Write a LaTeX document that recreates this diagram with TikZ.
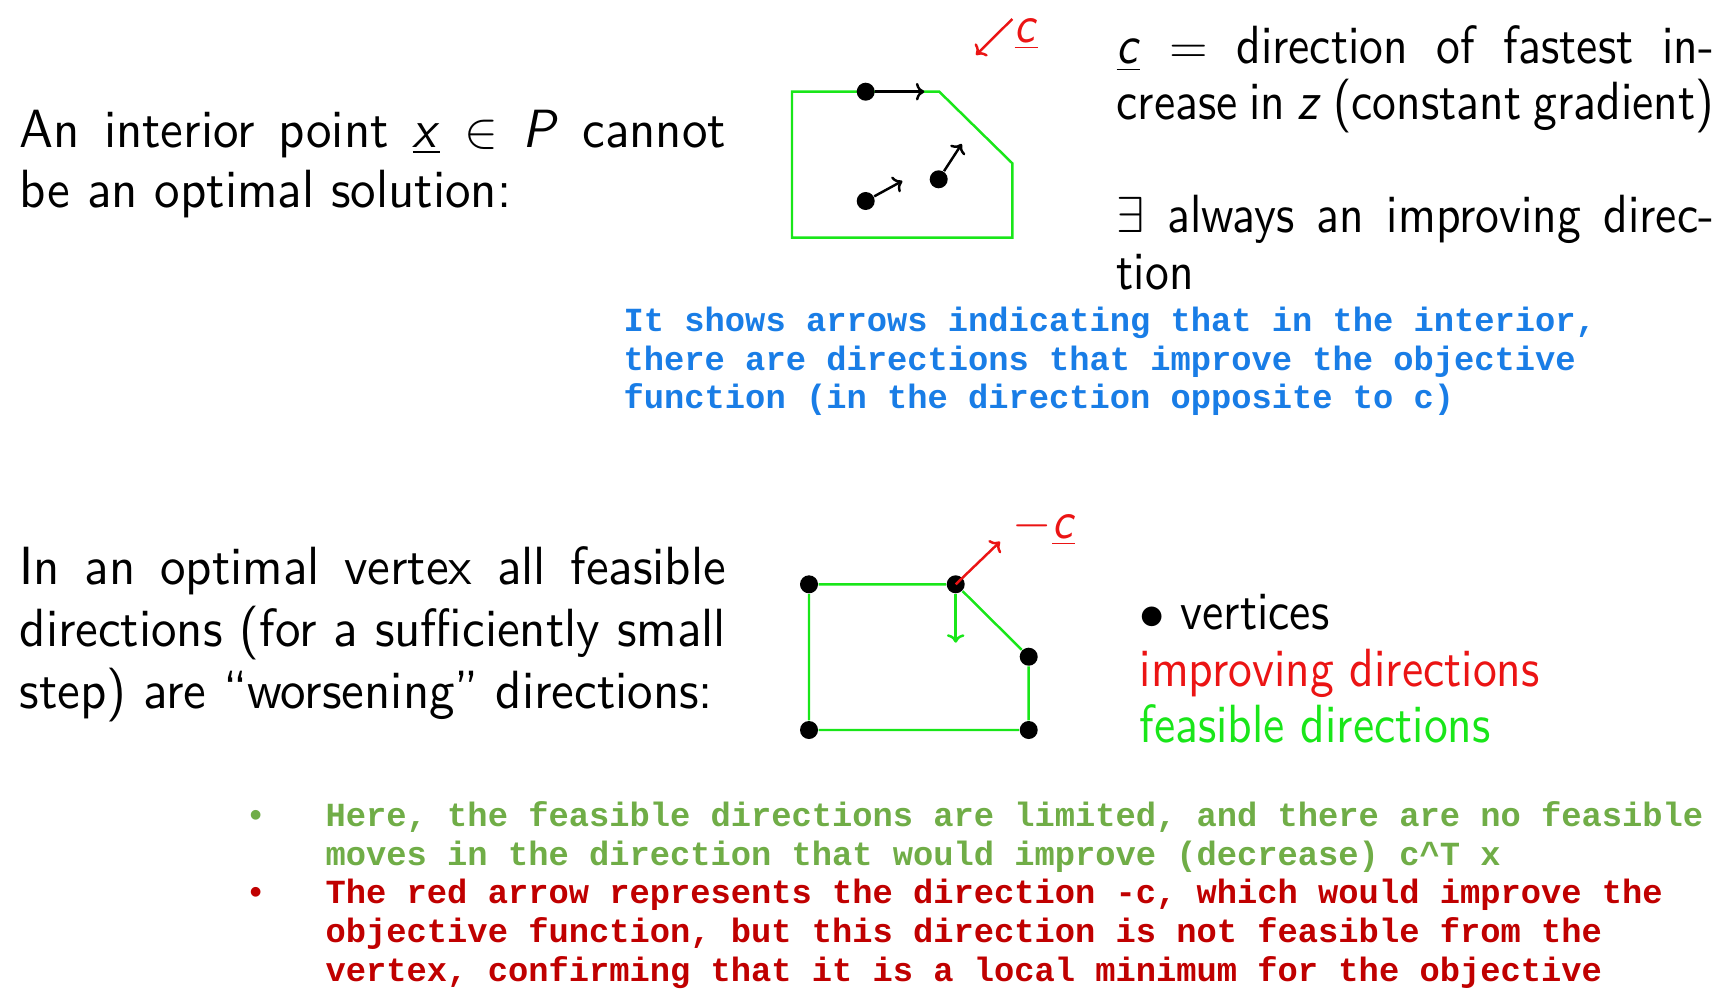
\documentclass[tikz,border=0pt]{standalone}
\usepackage{fontspec}
\setsansfont{lmsans10-regular.otf}[ItalicFont=lmsans10-oblique.otf, BoldFont=lmsans10-bold.otf, FakeStretch=0.885]
\newfontfamily\leftfont{lmsans10-regular.otf}[ItalicFont=lmsans10-oblique.otf, FakeStretch=0.947]
\newfontfamily\notefont{Liberation Mono}
\renewcommand{\familydefault}{\sfdefault}
\usetikzlibrary{arrows.meta}

\definecolor{polygreen}{RGB}{25,230,25}
\definecolor{arrowred}{RGB}{235,20,20}
\definecolor{noteblue}{RGB}{25,125,230}
\definecolor{notegreen}{RGB}{112,173,71}
\definecolor{notered}{RGB}{192,0,0}

\newcommand{\spreadline}[2]{\makebox[#1][s]{#2}}

\begin{document}
\begin{tikzpicture}[x=0.01cm, y=-0.01cm,
    body/.style={anchor=base west, inner sep=0pt, font=\fontsize{15.3}{18}\selectfont},
    leftbody/.style={anchor=base west, inner sep=0pt, font=\leftfont\fontsize{15.3}{18}\selectfont},
    dirlabel/.style={anchor=base west, inner sep=0pt, font=\fontsize{14.8}{17}\selectfont},
    note/.style={anchor=base west, inner sep=0pt, font=\notefont\bfseries\fontsize{9.6}{11}\selectfont},
    dot/.style={circle, fill=black, inner sep=0pt, minimum size=0.18cm},
    polyline/.style={draw=polygreen, line width=0.7pt},
    dirarrow/.style={-{To[length=2.4pt,width=5pt]}, line width=0.7pt}]
    \useasboundingbox (0,0) rectangle (1730,1000);

    % Interior point text
    \node[leftbody] (int1) at (19,147) {\spreadline{7.06cm}{An interior point \underline{\textit{x}} $\in$ \textit{P} cannot}};
    \node[leftbody] (int2) at (19,207) {be an optimal solution:};

    % Gradient text
    \node[body] (grad1) at (1116,64) {\spreadline{5.97cm}{\underline{\textit{c}} $=$ direction of fastest in-}};
    \node[body] (grad2) at (1116,119) {\spreadline{5.97cm}{crease in \textit{z} (constant gradient)}};
    \node[body] (impr1) at (1116,232) {\spreadline{5.97cm}{$\exists$ always an improving direc-}};
    \node[body] (impr2) at (1116,289) {tion};

    % Interior polygon
    \coordinate (p1) at (792,91.7);
    \coordinate (p2) at (939.3,91.7);
    \coordinate (p3) at (1012.3,163.3);
    \coordinate (p4) at (1012.3,237.7);
    \coordinate (p5) at (792,237.7);
    \draw[polyline] (p1) -- (p2) -- (p3) -- (p4) -- (p5) -- cycle;

    % Interior points and directions
    \node[dot] (x1) at (865.7,91.7) {};
    \node[dot] (x2) at (865.7,201) {};
    \node[dot] (x3) at (938.7,179.3) {};
    \coordinate (x1to) at (924.3,91.7);
    \coordinate (x2to) at (902.3,181);
    \coordinate (x3to) at (961.7,144);
    \draw[dirarrow] (x1) -- (x1to);
    \draw[dirarrow] (x2) -- (x2to);
    \draw[dirarrow] (x3) -- (x3to);

    % Gradient c
    \coordinate (cfrom) at (1012.3,19);
    \coordinate (cto) at (976,55);
    \draw[dirarrow, arrowred] (cfrom) -- (cto);
    \node[dirlabel, text=arrowred] (clabel) at (1014,42) {\underline{\textit{c}}};

    % Blue note
    \node[note, text=noteblue] (blue1) at (623,331) {It shows arrows indicating that in the interior,};
    \node[note, text=noteblue] (blue2) at (623,370) {there are directions that improve the objective};
    \node[note, text=noteblue] (blue3) at (623,408) {function (in the direction opposite to c)};

    % Optimal vertex text
    \node[leftbody] (opt1) at (19,584) {\spreadline{7.06cm}{In an optimal vertex all feasible}};
    \node[leftbody] (opt2) at (19,646) {\spreadline{7.06cm}{directions (for a sufficiently small}};
    \node[leftbody] (opt3) at (19,708) {step) are “worsening” directions:};

    % Vertex polygon
    \node[dot] (v1) at (809,584.3) {};
    \node[dot] (v2) at (955.7,584.3) {};
    \node[dot] (v3) at (1028.7,656.7) {};
    \node[dot] (v4) at (1028.7,730) {};
    \node[dot] (v5) at (809,730) {};
    \draw[polyline] (v1) -- (v2) -- (v3) -- (v4) -- (v5) -- (v1);

    % Directions at the optimal vertex
    \coordinate (feas) at (955.7,642.7);
    \coordinate (impr) at (1000,541.7);
    \draw[dirarrow, polygreen] (v2) -- (feas);
    \draw[dirarrow, arrowred] (v2.center) -- (impr);
    \node[dirlabel, text=arrowred] (mclabel) at (1012,538) {$-$\underline{\textit{c}}};

    % Legend
    \node[body] (legv) at (1139,629) {$\bullet$ vertices};
    \node[body, text=arrowred] (legi) at (1139,686) {improving directions};
    \node[body, text=polygreen] (legf) at (1139,742) {feasible directions};

    % Bottom notes
    \node[note, text=notegreen] (gbul) at (245,826) {•};
    \node[note, text=notegreen] (green1) at (325,826) {Here, the feasible directions are limited, and there are no feasible};
    \node[note, text=notegreen] (green2) at (325,865) {moves in the direction that would improve (decrease) c\textasciicircum T x};
    \node[note, text=notered] (rbul) at (245,903) {•};
    \node[note, text=notered] (red1) at (325,903) {The red arrow represents the direction -c, which would improve the};
    \node[note, text=notered] (red2) at (325,942) {objective function, but this direction is not feasible from the};
    \node[note, text=notered] (red3) at (325,981) {vertex, confirming that it is a local minimum for the objective};

\end{tikzpicture}
\end{document}
